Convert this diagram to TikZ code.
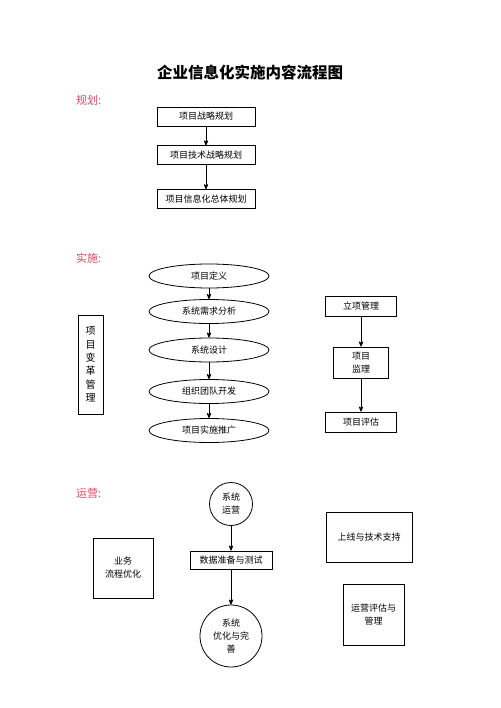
\documentclass[tikz,border=0pt]{standalone}
\usepackage{fontspec}
\setmainfont{Noto Sans CJK SC}
\usetikzlibrary{arrows,positioning,shapes.geometric}
\definecolor{rubrikfarbe}{RGB}{226,72,98}
\tikzset{
    >=stealth',
    kasse/.style={
           rectangle,
           draw=black, line width=0.8pt,
           inner sep=0pt,
           align=center,
           font=\fontsize{9}{13}\selectfont},
    oval/.style={
           ellipse,
           draw=black, line width=0.8pt,
           minimum width=120pt,
           minimum height=24pt,
           inner sep=0pt,
           font=\fontsize{9}{13}\selectfont},
    rund/.style={
           circle,
           draw=black, line width=0.8pt,
           inner sep=0pt,
           align=center,
           font=\fontsize{9}{13}\selectfont},
    pil/.style={
           ->,
           line width=0.8pt},
    rubrik/.style={
           anchor=west,
           inner sep=0pt,
           text=rubrikfarbe,
           font=\fontsize{11}{13}\selectfont}
}

\begin{document}
\begin{tikzpicture}[x=1pt, y=-1pt, node distance=19pt]
        \useasboundingbox (0,0) rectangle (500,708);
        \node[font=\fontsize{15.5}{18}\selectfont\bfseries] (titel) at (250,73) {企业信息化实施内容流程图};

        % planung
        \node[rubrik] (r1) at (76,100) {规划:};
        \node[kasse, minimum width=98pt, minimum height=19pt] (p1) at (206,116.5) {项目战略规划};
        \node[kasse, minimum width=98pt, minimum height=19pt, below=of p1] (p2) {项目技术战略规划};
        \node[kasse, minimum width=98pt, minimum height=19pt, below=24pt of p2] (p3) {项目信息化总体规划};

        \draw[pil] (p1) -- (p2);
        \draw[pil] (p2) -- (p3);

        % umsetzung
        \node[rubrik] (r2) at (76,258) {实施:};
        \node[oval] (e1) at (209,276) {项目定义};
        \node[oval] (e2) at (209,311.5) {系统需求分析};
        \node[oval] (e3) at (209,350) {系统设计};
        \node[oval] (e4) at (209,391.5) {组织团队开发};
        \node[oval] (e5) at (209,430.5) {项目实施推广};
        \node[kasse, minimum width=25pt, minimum height=99pt,
              font=\fontsize{10}{13.3}\selectfont] (vm) at (90.5,364.5) {项\\目\\变\\革\\管\\理};
        \node[kasse, minimum width=71pt, minimum height=20pt] (lx) at (361,306) {立项管理};
        \node[kasse, minimum width=55pt, minimum height=31pt] (jl) at (361,362.5) {项目\\监理};
        \node[kasse, minimum width=71pt, minimum height=20pt] (pg) at (361,422) {项目评估};

        \draw[pil] (e1) -- (e2);
        \draw[pil] (e2) -- (e3);
        \draw[pil] (e3) -- (e4);
        \draw[pil] (e4) -- (e5);

        \draw[pil] (lx) -- (jl);
        \draw[pil] (jl) -- (pg);

        % betrieb
        \node[rubrik] (r3) at (76,493) {运营:};
        \node[rund, minimum size=43pt] (c1) at (231,504) {系统\\运营};
        \node[kasse, minimum width=82pt, minimum height=18pt] (sj) at (231,560) {数据准备与测试};
        \node[rund, minimum size=62pt] (c2) at (231,636) {系统\\优化与完\\善};
        \node[kasse, minimum width=60pt, minimum height=60pt] (yw) at (123,568) {业务\\流程优化};
        \node[kasse, minimum width=86pt, minimum height=50pt] (sx) at (369,537) {上线与技术支持};
        \node[kasse, minimum width=61pt, minimum height=61pt] (yy) at (373.5,614.5) {运营评估与\\管理};

        \draw[pil] (c1) -- (sj);
        \draw[pil] (sj) -- (c2);
\end{tikzpicture}
\end{document}
